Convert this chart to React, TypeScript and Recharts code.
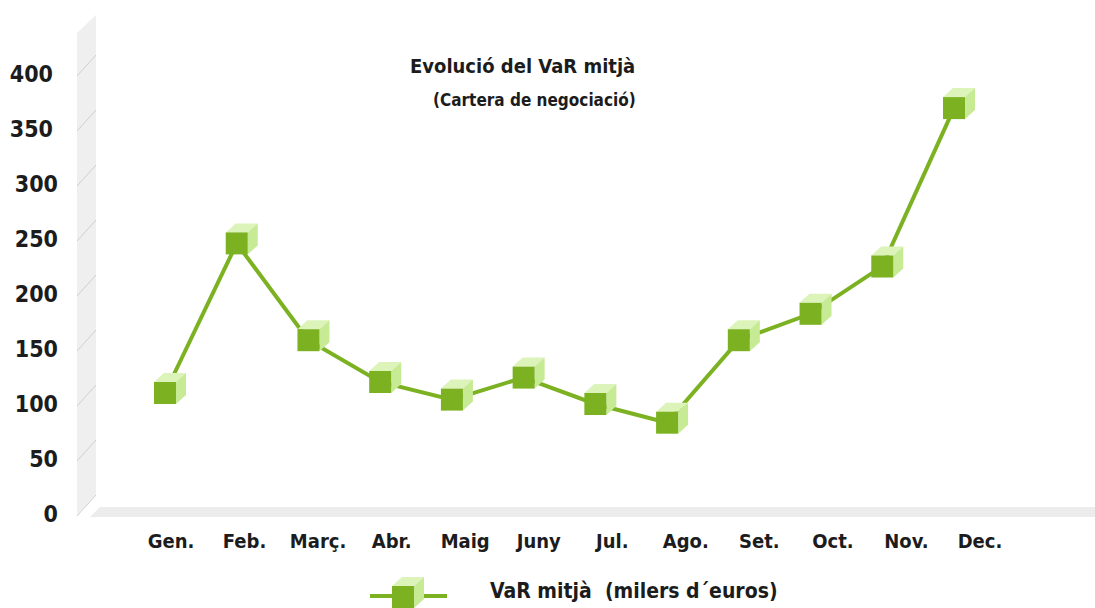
import { LineChart, Line, XAxis, YAxis } from "recharts";

const months = ["Gen.", "Feb.", "Març.", "Abr.", "Maig", "Juny", "Jul.", "Ago.", "Set.", "Oct.", "Nov.", "Dec."];
const varMitja = [110, 246, 158, 120, 104, 124, 100, 83, 158, 182, 225, 369];
const yTicks = [0, 50, 100, 150, 200, 250, 300, 350, 400];

const chartTitle = "Evolució del VaR mitjà";
const chartSubtitle = "(Cartera de negociació)";
const seriesName = "VaR mitjà  (milers d´euros)";

const data = months.map((m, i) => ({ month: m, value: varMitja[i] }));

const FONT = "'DejaVu Sans Condensed', 'DejaVu Sans', sans-serif";
const TEXT = "#1c1c1c";
const GREEN = "#7cb222";
const TOP_FACE = "#dcf3b9";
const SIDE_FACE = "#c7ea95";

// small 3d cube like the original markers
const Cube = ({ cx, cy }: { cx: number; cy: number }) => {
  const s = 11;
  const dx = 10;
  const dy = -9;
  return (
    <g>
      <polygon
        points={`${cx - s},${cy - s} ${cx + s},${cy - s} ${cx + s + dx},${cy - s + dy} ${cx - s + dx},${cy - s + dy}`}
        fill={TOP_FACE}
      />
      <polygon
        points={`${cx + s},${cy - s} ${cx + s + dx},${cy - s + dy} ${cx + s + dx},${cy + s + dy} ${cx + s},${cy + s}`}
        fill={SIDE_FACE}
      />
      <rect x={cx - s} y={cy - s} width={s * 2} height={s * 2} fill={GREEN} />
    </g>
  );
};

const renderDot = (props: any) => {
  const { cx, cy, index } = props;
  if (cx == null || cy == null) return <g key={`d-${index}`} />;
  return <Cube key={`d-${index}`} cx={cx} cy={cy} />;
};

const renderYTick = (props: any) => {
  const { y, payload } = props;
  const yy = Number(y) || 0;
  // upper labels sit a bit further left in the original
  const right = payload?.value >= 350 ? 53 : 58;
  return (
    <g>
      <line x1={77} y1={yy + 2} x2={96} y2={yy - 19} stroke="#cfcfcf" strokeWidth={1} />
      <text x={right} y={yy} dy={8} textAnchor="end" fill={TEXT} fontSize={23} fontWeight={700} fontFamily={FONT}>
        {payload?.value}
      </text>
    </g>
  );
};

const renderXTick = (props: any) => {
  const { x, y, payload } = props;
  return (
    <text x={Number(x) || 0} y={Number(y) || 0} dy={26} textAnchor="middle" fill={TEXT} fontSize={20} fontWeight={700} fontFamily={FONT}>
      {payload?.value}
    </text>
  );
};

export default function App() {
  return (
    <div style={{ position: "absolute", left: 0, top: 0, width: 1095, height: 608, background: "#fff", overflow: "hidden" }}>
      {/* wall and floor */}
      <svg width={1095} height={608} style={{ position: "absolute", left: 0, top: 0 }}>
        <polygon points="77,33 96,15 96,495 77,515" fill="#efefef" />
        <polygon points="100,507 1095,507 1095,517 90,517" fill="#ececec" />
      </svg>
      <div style={{ position: "absolute", left: 0, top: 0 }}>
        <LineChart width={1095} height={608} data={data} margin={{ top: 74, right: 10, bottom: 54, left: 0 }}>
          <YAxis
            domain={[0, 400]}
            ticks={yTicks}
            width={96}
            axisLine={false}
            tickLine={false}
            tick={renderYTick}
            interval={0}
          />
          <XAxis
            dataKey="month"
            height={40}
            axisLine={false}
            tickLine={false}
            tick={renderXTick}
            interval={0}
            padding={{ left: 75, right: 105 }}
          />
          <XAxis xAxisId="pts" dataKey="month" hide padding={{ left: 69, right: 131 }} />
          <Line
            xAxisId="pts"
            dataKey="value"
            stroke={GREEN}
            strokeWidth={4}
            dot={renderDot}
            activeDot={false}
            isAnimationActive={false}
          />
        </LineChart>
      </div>
      <div style={{ position: "absolute", left: 410, top: 54, fontFamily: FONT, fontWeight: 700, fontSize: 20, color: TEXT, whiteSpace: "pre" }}>
        {chartTitle}
      </div>
      <div style={{ position: "absolute", left: 433, top: 90, fontFamily: FONT, fontWeight: 700, fontSize: 17, color: TEXT, whiteSpace: "pre" }}>
        {chartSubtitle}
      </div>
      {/* legend */}
      <svg width={90} height={40} style={{ position: "absolute", left: 365, top: 570 }}>
        <line x1={5} y1={26} x2={82} y2={26} stroke={GREEN} strokeWidth={4} />
        <Cube cx={38} cy={27} />
      </svg>
      <div style={{ position: "absolute", left: 490, top: 579, fontFamily: FONT, fontWeight: 700, fontSize: 21, color: TEXT, whiteSpace: "pre" }}>
        {seriesName}
      </div>
    </div>
  );
}
